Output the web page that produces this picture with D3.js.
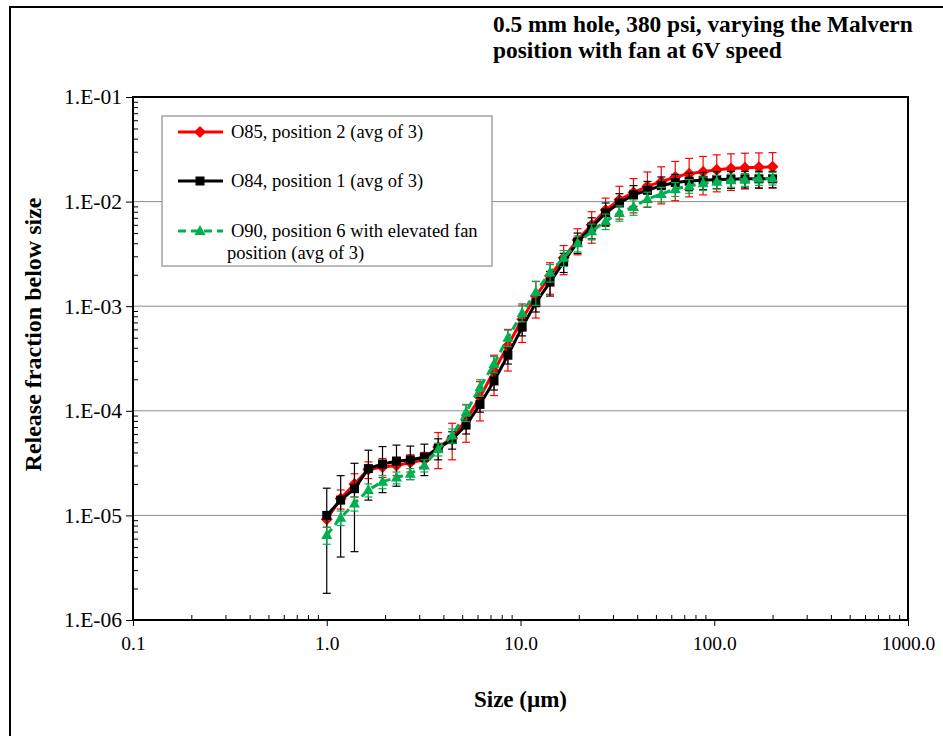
<!DOCTYPE html>
<html>
<head>
<meta charset="utf-8">
<script src="https://cdn.jsdelivr.net/npm/d3@7.9.0/dist/d3.min.js"></script>
<style>
  body { margin: 0; background: #fff; }
  svg { display: block; font-family: 'Liberation Serif', 'Times New Roman', serif; }
  .tick text { font-family: 'Liberation Serif', serif; font-size: 19.5px; fill: #000; }
  .yaxis .tick text { font-size: 21.5px; }
</style>
</head>
<body>
<svg id="chart" width="943" height="736"></svg>
<script>
// size bins (um)
const sizes = [1.00, 1.18, 1.39, 1.64, 1.94, 2.29, 2.70, 3.19, 3.76, 4.44, 5.24, 6.18, 7.30, 8.61,
  10.2, 12.0, 14.2, 16.7, 19.7, 23.3, 27.5, 32.4, 38.3, 45.2, 53.3, 62.9, 74.2, 87.6,
  103, 122, 144, 170, 200];

// O85, position 2 (avg of 3)
const o85 = [9.2e-6, 1.45e-5, 2.0e-5, 2.75e-5, 2.9e-5, 3.0e-5, 3.2e-5, 3.4e-5, 4.5e-5, 5.5e-5,
  8.2e-5, 1.35e-4, 2.4e-4, 4.2e-4, 7.5e-4, 1.25e-3, 1.95e-3, 2.9e-3, 4.3e-3, 6.0e-3,
  8.3e-3, 1.04e-2, 1.22e-2, 1.40e-2, 1.55e-2, 1.72e-2, 1.85e-2, 1.93e-2, 2.02e-2, 2.07e-2,
  2.11e-2, 2.13e-2, 2.15e-2];
const o85Err = [1.5e-6, 3e-6, 5e-6, 5e-6, 6e-6, 6e-6, 6e-6, 6e-6, 1.7e-5, 2.1e-5,
  3.2e-5, 5.5e-5, 1.0e-4, 1.8e-4, 3.0e-4, 4.8e-4, 6.5e-4, 9e-4, 1.2e-3, 2.0e-3,
  2.5e-3, 3.6e-3, 4.4e-3, 5.2e-3, 6.0e-3, 7.0e-3, 7.4e-3, 7.7e-3, 7.8e-3, 7.9e-3,
  7.9e-3, 7.9e-3, 7.9e-3];

// O84, position 1 (avg of 3)
const o84 = [1.0e-5, 1.40e-5, 1.80e-5, 2.80e-5, 3.1e-5, 3.3e-5, 3.4e-5, 3.6e-5, 4.4e-5, 5.3e-5,
  7.3e-5, 1.15e-4, 1.93e-4, 3.4e-4, 6.3e-4, 1.08e-3, 1.70e-3, 2.65e-3, 4.1e-3, 5.7e-3,
  7.8e-3, 9.7e-3, 1.16e-2, 1.28e-2, 1.42e-2, 1.52e-2, 1.57e-2, 1.60e-2, 1.63e-2, 1.64e-2,
  1.65e-2, 1.65e-2, 1.65e-2];
const o84Err = [8.2e-6, 1.0e-5, 1.35e-5, 1.4e-5, 1.45e-5, 1.4e-5, 1.2e-5, 1.2e-5, 1.0e-5, 1.0e-5,
  1.3e-5, 1.8e-5, 3.5e-5, 6e-5, 1.1e-4, 2.0e-4, 4.5e-4, 5.5e-4, 9e-4, 1.3e-3,
  1.9e-3, 2.2e-3, 2.6e-3, 2.8e-3, 3.0e-3, 3.0e-3, 3.0e-3, 3.0e-3, 3.0e-3, 3.0e-3,
  3.0e-3, 3.0e-3, 3.0e-3];

// O90, position 6 with elevated fan position (avg of 3)
const o90 = [6.5e-6, 9.5e-6, 1.3e-5, 1.75e-5, 2.1e-5, 2.3e-5, 2.5e-5, 3.0e-5, 4.3e-5, 5.8e-5,
  9.7e-5, 1.68e-4, 2.8e-4, 5.0e-4, 8.6e-4, 1.37e-3, 2.1e-3, 2.9e-3, 4.0e-3, 5.2e-3,
  6.5e-3, 7.8e-3, 8.9e-3, 1.06e-2, 1.18e-2, 1.32e-2, 1.41e-2, 1.50e-2, 1.55e-2, 1.60e-2,
  1.63e-2, 1.66e-2, 1.67e-2];
const o90Err = [1.2e-6, 1.5e-6, 2e-6, 2.5e-6, 3e-6, 3e-6, 3e-6, 4e-6, 6e-6, 9e-6,
  1.8e-5, 3e-5, 5e-5, 9e-5, 1.5e-4, 3.5e-4, 4e-4, 5e-4, 7e-4, 9e-4,
  1.1e-3, 1.3e-3, 1.5e-3, 1.7e-3, 1.9e-3, 2.0e-3, 2.1e-3, 2.2e-3, 2.3e-3, 2.3e-3,
  2.3e-3, 2.3e-3, 2.3e-3];

const xTicks = [0.1, 1, 10, 100, 1000];
const xTickLabels = ['0.1', '1.0', '10.0', '100.0', '1000.0'];
const yTicks = [1e-6, 1e-5, 1e-4, 1e-3, 1e-2, 1e-1];
const yTickLabels = ['1.E-06', '1.E-05', '1.E-04', '1.E-03', '1.E-02', '1.E-01'];

const titleLines = ['0.5 mm hole, 380 psi, varying the Malvern', 'position with fan at 6V speed'];

const series = [
  { name: ['O85, position 2 (avg of 3)'], values: o85, err: o85Err, color: '#ff0000', marker: 'diamond', dash: null },
  { name: ['O84, position 1 (avg of 3)'], values: o84, err: o84Err, color: '#000000', marker: 'square', dash: null },
  { name: [' O90, position 6 with elevated fan', 'position (avg of 3)'], values: o90, err: o90Err, color: '#00b050', marker: 'triangle', dash: '8,5' }
];

const svg = d3.select('#chart');
const plotL = 133, plotR = 908, plotT = 97, plotB = 620;

const x = d3.scaleLog().domain([0.1, 1000]).range([plotL, plotR]);
const y = d3.scaleLog().domain([1e-6, 1e-1]).range([plotB, plotT]);

// outer frame
svg.append('rect').attr('x', 10).attr('y', 7).attr('width', 960).attr('height', 760)
  .attr('fill', 'none').attr('stroke', '#000').attr('stroke-width', 2);

// title
svg.append('text').attr('x', 493).attr('y', 32)
  .attr('font-size', 23.4).attr('font-weight', 'bold')
  .selectAll('tspan').data(titleLines).join('tspan')
  .attr('x', 493).attr('dy', (d, i) => i === 0 ? 0 : 26).text(d => d);

// gridlines
svg.append('g').selectAll('line').data(yTicks.slice(1, -1)).join('line')
  .attr('x1', plotL).attr('x2', plotR).attr('y1', d => y(d)).attr('y2', d => y(d))
  .attr('stroke', '#8c8c8c').attr('stroke-width', 1);

// minor ticks (inside)
const yMinor = [];
const xMinor = [];
yTicks.slice(0, -1).forEach(t => { for (let k = 2; k <= 9; k++) yMinor.push(t * k); });
xTicks.slice(0, -1).forEach(t => { for (let k = 2; k <= 9; k++) xMinor.push(t * k); });

svg.append('g').attr('transform', `translate(${plotL},0)`)
  .call(d3.axisRight(y).tickValues(yMinor).tickSize(5).tickFormat(''))
  .call(g => g.select('.domain').remove());
svg.append('g').attr('transform', `translate(0,${plotB})`)
  .call(d3.axisTop(x).tickValues(xMinor).tickSize(5).tickFormat(''))
  .call(g => g.select('.domain').remove());

// major axes
svg.append('g').attr('class', 'yaxis').attr('transform', `translate(${plotL},0)`)
  .call(d3.axisLeft(y).tickValues(yTicks).tickSize(7).tickPadding(4)
    .tickFormat((d, i) => yTickLabels[i]))
  .call(g => g.select('.domain').remove());
svg.append('g').attr('transform', `translate(0,${plotB})`)
  .call(d3.axisBottom(x).tickValues(xTicks).tickSize(6).tickPadding(10)
    .tickFormat((d, i) => xTickLabels[i]))
  .call(g => g.select('.domain').remove());

// plot border
svg.append('rect').attr('x', plotL).attr('y', plotT).attr('width', plotR - plotL).attr('height', plotB - plotT)
  .attr('fill', 'none').attr('stroke', '#000').attr('stroke-width', 2);

// axis titles
svg.append('text').attr('transform', `translate(41,${(plotT + plotB) / 2 - 24}) rotate(-90)`)
  .attr('text-anchor', 'middle').attr('font-size', 24).attr('font-weight', 'bold')
  .text('Release fraction below size');
svg.append('text').attr('x', (plotL + plotR) / 2).attr('y', 707)
  .attr('text-anchor', 'middle').attr('font-size', 23).attr('font-weight', 'bold')
  .text('Size (\u00b5m)');

function markerPath(type) {
  if (type === 'diamond') return 'M0,-6L6,0L0,6L-6,0Z';
  if (type === 'square') return 'M-4.5,-4.5H4.5V4.5H-4.5Z';
  return 'M0,-6L5.5,4L-5.5,4Z';
}

const line = d3.line().x(d => x(d[0])).y(d => y(d[1]));

series.forEach(s => {
  const g = svg.append('g');
  const pts = sizes.map((v, i) => [v, s.values[i], s.err[i]]);
  // error bars
  const eb = g.append('g').attr('stroke', s.color).attr('stroke-width', 1.2);
  pts.forEach(p => {
    const hi = p[1] + p[2];
    const lo = Math.max(p[1] - p[2], 1e-6);
    const px = x(p[0]);
    eb.append('line').attr('x1', px).attr('x2', px).attr('y1', y(hi)).attr('y2', y(lo));
    eb.append('line').attr('x1', px - 4).attr('x2', px + 4).attr('y1', y(hi)).attr('y2', y(hi));
    eb.append('line').attr('x1', px - 4).attr('x2', px + 4).attr('y1', y(lo)).attr('y2', y(lo));
  });
  g.append('path').datum(pts).attr('d', line)
    .attr('fill', 'none').attr('stroke', s.color).attr('stroke-width', 3)
    .attr('stroke-dasharray', s.dash);
  g.selectAll('path.mk').data(pts).join('path').attr('class', 'mk')
    .attr('d', markerPath(s.marker))
    .attr('transform', d => `translate(${x(d[0])},${y(d[1])})`)
    .attr('fill', s.color);
});

// legend
const lg = svg.append('g');
lg.append('rect').attr('x', 162).attr('y', 116).attr('width', 330).attr('height', 150)
  .attr('fill', '#fff').attr('stroke', '#8c8c8c').attr('stroke-width', 1.2);
const rowY = [132, 181, 231];
series.forEach((s, i) => {
  lg.append('line').attr('x1', 178).attr('x2', 223).attr('y1', rowY[i]).attr('y2', rowY[i])
    .attr('stroke', s.color).attr('stroke-width', 3).attr('stroke-dasharray', s.dash);
  lg.append('path').attr('d', markerPath(s.marker))
    .attr('transform', `translate(200,${rowY[i]})`).attr('fill', s.color);
  lg.append('text').attr('font-size', 18.5)
    .selectAll('tspan').data(s.name).join('tspan')
    .attr('x', (d, j) => j === 0 ? 231 : 227)
    .attr('y', (d, j) => rowY[i] + 6 + j * 22)
    .text(d => d);
});
</script>
</body>
</html>
